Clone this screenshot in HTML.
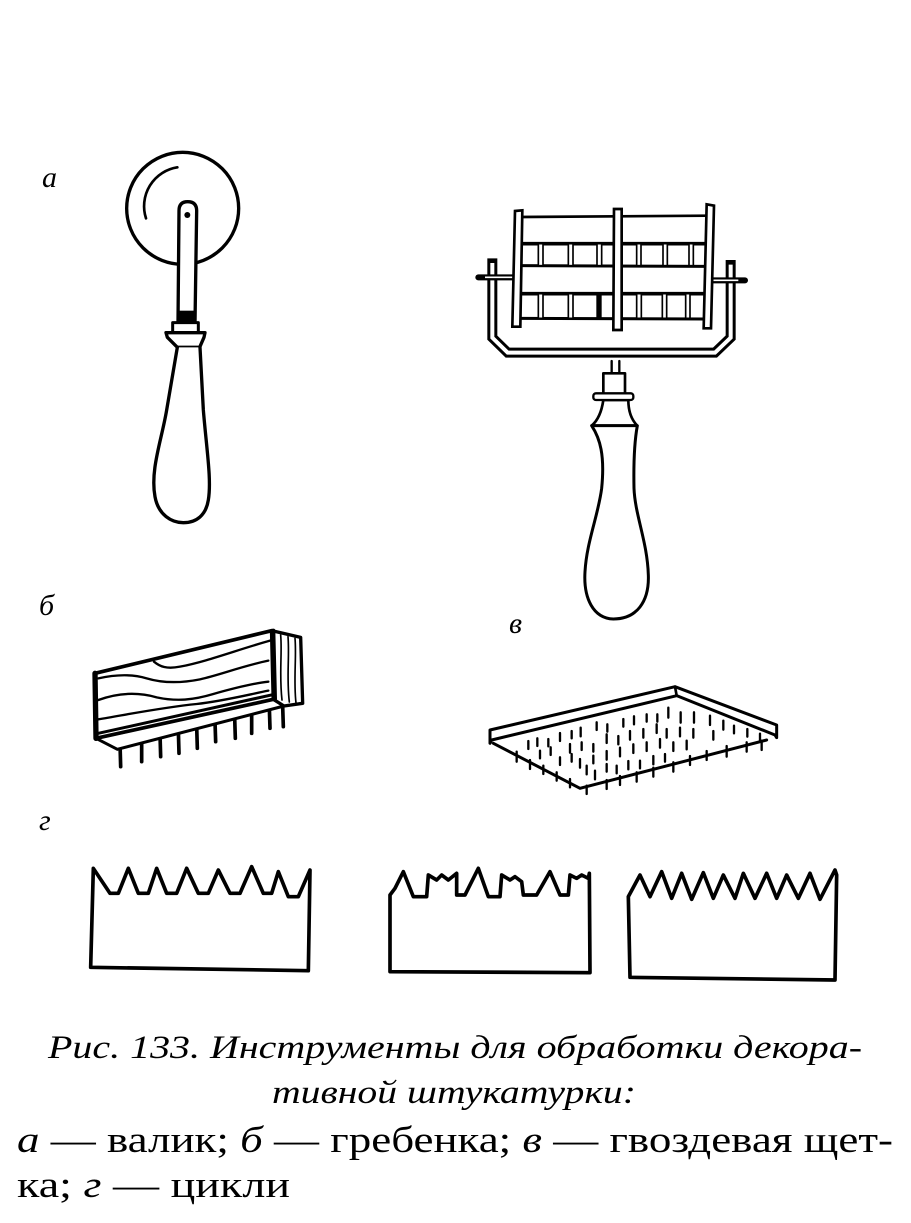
<!DOCTYPE html>
<html>
<head>
<meta charset="utf-8">
<style>
  html,body{margin:0;padding:0;background:#fff;}
  svg{display:block;}
  .it{font-family:"Liberation Serif","DejaVu Serif",serif;font-style:italic;}
  .rm{font-family:"Liberation Serif","DejaVu Serif",serif;font-style:normal;}
</style>
</head>
<body>
<svg width="911" height="1223" viewBox="0 0 911 1223" xmlns="http://www.w3.org/2000/svg">
  <rect width="911" height="1223" fill="#fff"/>

  <!-- Labels -->
  <text class="it" x="42" y="187" font-size="30" fill="#000">а</text>
  <text class="it" x="39" y="615" font-size="30" fill="#000">б</text>
  <text class="it" x="509" y="633" font-size="30" fill="#000">в</text>
  <text class="it" x="39" y="830" font-size="30" fill="#000">г</text>

  <!-- Figure а : roller with disc -->
  <g transform="translate(100,150) scale(0.33333)" fill="none" stroke="#000" stroke-linejoin="round" stroke-linecap="round">
    <circle cx="248" cy="175" r="168" stroke-width="10" fill="#fff"/>
    <path d="M138,205 A 118 118 0 0 1 232,52" stroke-width="8"/>
    <path d="M234,520 L237,182 Q237,155 263,155 Q290,155 290,182 L285,520 Z" stroke-width="10" fill="#fff"/>
    <circle cx="262" cy="195" r="9" fill="#000" stroke="none"/>
    <rect x="232" y="482" width="53" height="34" fill="#000" stroke="none"/>
    <path d="M218,545 L218,518 L295,518 L295,545" stroke-width="9" fill="#fff"/>
    <path d="M198,548 L315,548 L312,562 L299,592 L232,592 L202,562 Z" stroke-width="10" fill="#fff"/>
    <path d="M232,592 L200,780 C 185,870 150,960 165,1040 C 175,1095 215,1118 250,1118 C 290,1118 318,1095 325,1050 C 335,990 320,900 310,780 L300,592" stroke-width="10" fill="#fff"/>
  </g>

  <!-- Figure в (top right): drum roller -->
  <g transform="translate(465,195) scale(0.33333)" fill="none" stroke="#000" stroke-linejoin="miter">
    <!-- bracket -->
    <path d="M82,190 L82,428 L128,473 L750,473 L797,428 L797,195" stroke-width="30"/>
    <path d="M82,204 L82,428 L128,473 L750,473 L797,428 L797,209" stroke="#fff" stroke-width="12"/>
    <!-- axles -->
    <path d="M40,247 L150,247" stroke-width="18" stroke-linecap="round"/>
    <path d="M60,247 L145,247" stroke="#fff" stroke-width="5"/>
    <path d="M740,256 L840,256" stroke-width="18" stroke-linecap="round"/>
    <path d="M745,256 L820,256" stroke="#fff" stroke-width="5"/>
    <!-- drum lines -->
    <path d="M165,66 L725,62" stroke-width="8"/>
    <path d="M165,146 L725,146" stroke-width="11"/>
    <path d="M165,212 L725,214" stroke-width="9"/>
    <path d="M165,296 L725,296" stroke-width="11"/>
    <path d="M165,370 L725,372" stroke-width="9"/>
    <!-- posts -->
    <g stroke-width="5" fill="#fff">
      <rect x="220" y="146" width="14" height="66"/>
      <rect x="310" y="146" width="14" height="66"/>
      <rect x="396" y="146" width="14" height="66"/>
      <rect x="515" y="146" width="13" height="66"/>
      <rect x="594" y="146" width="13" height="66"/>
      <rect x="672" y="146" width="13" height="66"/>
      <rect x="220" y="296" width="14" height="74"/>
      <rect x="310" y="296" width="14" height="74"/>
      <rect x="515" y="296" width="14" height="74"/>
      <rect x="592" y="296" width="13" height="74"/>
      <rect x="662" y="296" width="13" height="74"/>
    </g>
    <rect x="394" y="300" width="16" height="70" fill="#000" stroke="none"/>
    <!-- plates -->
    <path d="M150,48 L172,46 L166,395 L142,395 Z" stroke-width="8" fill="#fff"/>
    <path d="M447,42 L470,42 L470,405 L445,405 Z" stroke-width="8" fill="#fff"/>
    <path d="M725,28 L747,32 L738,400 L716,400 Z" stroke-width="8" fill="#fff"/>
  </g>

  <!-- handle of drum roller -->
  <g transform="translate(560,355) scale(0.33333)" fill="none" stroke="#000" stroke-linejoin="round" stroke-linecap="round">
    <path d="M155,18 L155,58 M178,18 L178,58" stroke-width="7"/>
    <rect x="130" y="55" width="65" height="63" stroke-width="8" fill="#fff"/>
    <path d="M130,135 C 125,170 115,195 95,212 L232,212 C 215,195 205,170 205,135 Z" stroke-width="8" fill="#fff"/>
    <rect x="100" y="115" width="120" height="20" rx="8" stroke-width="7" fill="#fff"/>
    <path d="M95,212 C 120,250 135,300 125,400 C 115,480 80,560 75,650 C 70,730 100,790 160,792 C 230,792 268,740 265,660 C 262,560 225,480 222,400 C 220,300 225,250 232,212 Z" stroke-width="9" fill="#fff"/>
  </g>

  <!-- Figure б : comb -->
  <g transform="translate(80,620) scale(0.33333)" fill="none" stroke="#000" stroke-linejoin="round" stroke-linecap="round">
    <g stroke-width="11">
      <path d="M120,370 L122,440"/>
      <path d="M185,355 L185,425"/>
      <path d="M240,342 L242,410"/>
      <path d="M295,330 L297,400"/>
      <path d="M350,318 L352,385"/>
      <path d="M405,305 L407,365"/>
      <path d="M464,292 L466,355"/>
      <path d="M515,278 L515,340"/>
      <path d="M568,262 L570,325"/>
      <path d="M608,258 L610,320"/>
    </g>
    <path d="M48,355 L580,238 L612,258 L112,388 Z" stroke-width="9" fill="#fff"/>
    <path d="M575,32 L662,52 L668,250 L612,258 L580,238 Z" stroke-width="10" fill="#fff"/>
    <path d="M580,32 L585,236" stroke-width="12"/>
    <path d="M45,160 L575,32 L580,238 L48,355 Z" stroke-width="11" fill="#fff"/>
    <path d="M45,160 L48,355" stroke-width="16"/>
    <path d="M55,340 L578,224" stroke-width="9"/>
    <g stroke-width="7">
      <path d="M222,125 C 240,140 260,148 300,140 C 380,125 470,90 570,62"/>
      <path d="M55,175 C 100,165 150,160 200,175 C 250,190 300,190 360,178 C 420,165 480,140 565,122"/>
      <path d="M55,240 C 110,220 170,215 230,232 C 290,245 340,240 400,222 C 460,205 520,190 565,185"/>
      <path d="M55,298 C 150,282 250,262 350,252 C 430,243 500,225 565,212"/>
    </g>
    <g stroke-width="5">
      <path d="M602,45 C 607,100 597,160 606,240"/>
      <path d="M624,50 C 629,110 619,170 628,246"/>
      <path d="M645,55 C 650,110 640,180 648,249"/>
    </g>
  </g>

  <!-- Figure в : nail brush -->
  <g transform="translate(480,675) scale(0.33333)" fill="none" stroke="#000" stroke-linejoin="round" stroke-linecap="round">
    <path d="M40,205 L300,340 L860,195" stroke-width="9"/>
    <path d="M30,165 L585,35 L890,150 L890,188 L885,180 L590,62 L35,195 L30,205 Z" stroke-width="9" fill="#fff"/>
    <path d="M585,35 L590,62" stroke-width="8"/>
    <g stroke-width="7">
      <path d="M145,198 L145,222 M172,190 L172,213 M205,192 L205,214 M240,174 L240,198 M275,168 L275,190 M302,158 L302,184 M350,142 L350,165 M382,148 L382,170 M430,132 L430,155 M462,124 L462,148 M500,118 L500,140 M532,118 L532,140 M565,98 L565,128 M602,112 L602,143 M642,112 L642,143 M690,122 L690,150 M730,137 L730,164 M762,152 L762,175 M802,162 L802,185 M840,176 L840,200"/>
      <path d="M180,227 L180,250 M212,217 L212,240 M270,207 L270,233 M305,202 L305,225 M340,207 L340,230 M380,178 L380,204 M415,183 L415,208 M450,168 L450,194 M490,162 L490,188 M530,148 L530,174 M560,162 L560,188 M600,158 L600,184 M640,162 L640,188 M700,168 L700,194"/>
      <path d="M240,247 L240,270 M275,237 L275,260 M300,252 L300,278 M340,242 L340,265 M380,228 L380,254 M420,218 L420,244 M460,208 L460,234 M500,202 L500,228 M540,192 L540,218 M580,202 L580,228 M620,197 L620,223"/>
      <path d="M320,272 L320,298 M345,287 L345,313 M380,267 L380,290 M410,272 L410,295 M445,258 L445,283 M480,257 L480,280 M520,243 L520,268 M555,237 L555,260"/>
      <path d="M110,230 L110,260 M150,255 L150,282 M190,272 L190,297 M230,292 L230,317 M270,312 L270,337 M320,332 L320,357 M380,315 L380,342 M420,303 L420,330 M470,292 L470,320 M520,278 L520,305 M580,262 L580,290 M630,243 L630,270 M680,228 L680,255 M740,213 L740,245 M800,202 L800,230 M845,197 L845,225"/>
    </g>
  </g>

  <!-- Figure г : scrapers -->
  <g fill="none" stroke="#000" stroke-linejoin="round" stroke-linecap="round">
    <g transform="translate(80,850) scale(0.33333)">
      <path d="M32,352 L40,55 L90,130 L115,130 L145,55 L175,130 L205,130 L230,55 L260,130 L290,130 L320,55 L355,130 L385,130 L415,60 L450,130 L480,130 L515,50 L550,130 L575,130 L595,65 L625,140 L655,140 L690,60 L685,362 Z" stroke-width="11"/>
    </g>
    <g transform="translate(380,850) scale(0.33333)">
      <path d="M30,365 L30,135 L45,115 L70,65 L100,140 L140,140 L145,75 L170,90 L185,75 L205,90 L230,70 L230,135 L255,135 L295,55 L325,140 L360,140 L365,75 L390,90 L405,80 L425,95 L430,135 L470,135 L510,65 L540,135 L565,135 L570,75 L590,85 L605,75 L625,85 L628,70 L630,368 Z" stroke-width="11"/>
    </g>
    <g transform="translate(620,850) scale(0.33333)">
      <path d="M30,382 L25,140 L60,75 L90,140 L125,65 L155,145 L185,70 L215,148 L250,68 L280,145 L310,75 L345,145 L370,70 L405,145 L440,70 L470,145 L500,75 L535,145 L570,70 L600,148 L645,60 L650,75 L645,390 Z" stroke-width="11"/>
    </g>
  </g>

  <!-- Caption -->
  <text class="it" x="48" y="1058" font-size="33" fill="#000" textLength="814" lengthAdjust="spacingAndGlyphs">Рис. 133. Инструменты для обработки декора-</text>
  <text class="it" x="272" y="1103" font-size="33" fill="#000" textLength="364" lengthAdjust="spacingAndGlyphs">тивной штукатурки:</text>
  <text class="rm" x="17" y="1152" font-size="37" fill="#000" textLength="876" lengthAdjust="spacingAndGlyphs"><tspan class="it">а</tspan> — валик; <tspan class="it">б</tspan> — гребенка; <tspan class="it">в</tspan> — гвоздевая щет-</text>
  <text class="rm" x="17" y="1197" font-size="37" fill="#000" textLength="273" lengthAdjust="spacingAndGlyphs">ка; <tspan class="it">г</tspan> — цикли</text>
</svg>
</body>
</html>
